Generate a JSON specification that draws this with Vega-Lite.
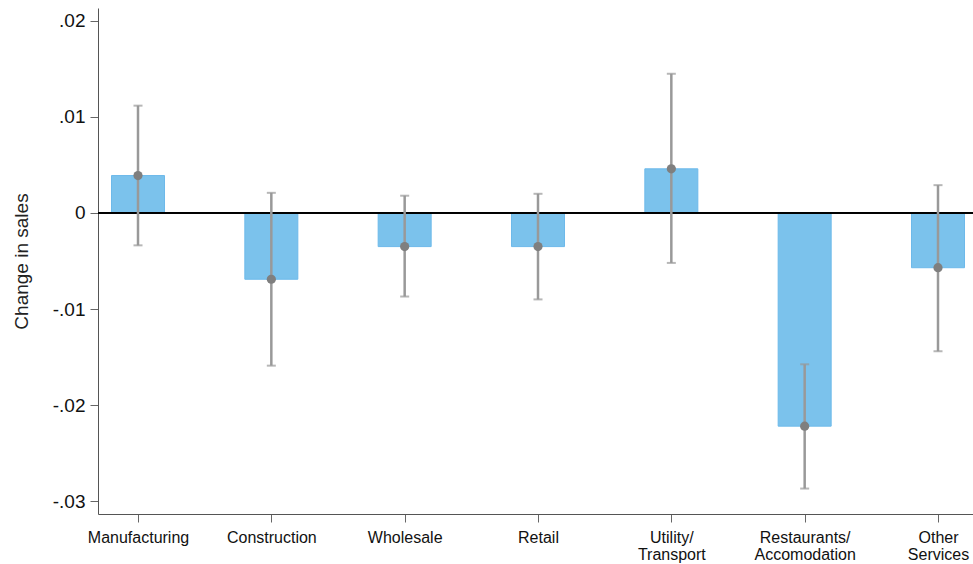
{
  "$schema": "https://vega.github.io/schema/vega-lite/v6.json",
  "width": 880,
  "height": 506,
  "autosize": {"type": "none"},
  "padding": {"left": 98, "top": 8, "right": 0, "bottom": 50},
  "background": "white",
  "config": {
    "view": {"stroke": null},
    "font": "Liberation Sans"
  },
  "data": {
    "values": [
      {"sector": "Manufacturing", "est": 0.0039, "lo": -0.00337, "hi": 0.01118},
      {"sector": "Construction", "est": -0.0069, "lo": -0.0159, "hi": 0.0021},
      {"sector": "Wholesale", "est": -0.0035, "lo": -0.0087, "hi": 0.0018},
      {"sector": "Retail", "est": -0.0035, "lo": -0.0090, "hi": 0.0020},
      {"sector": "Utility/Transport", "est": 0.0046, "lo": -0.0052, "hi": 0.0145},
      {"sector": "Restaurants/Accomodation", "est": -0.0222, "lo": -0.0287, "hi": -0.01576},
      {"sector": "Other Services", "est": -0.0057, "lo": -0.0144, "hi": 0.0029}
    ]
  },
  "encoding": {
    "x": {
      "field": "sector",
      "type": "nominal",
      "sort": null,
      "scale": {"type": "point", "padding": 0.3},
      "axis": {
        "title": null,
        "labelAngle": 0,
        "labelFontSize": 16,
        "labelColor": "#111",
        "labelPadding": 7,
        "tickSize": 8,
        "tickColor": "#666",
        "domainColor": "#555",
        "labelLineHeight": 17,
        "labelExpr": "indexof(datum.value,'/')>0 ? [slice(datum.value,0,indexof(datum.value,'/')+1), slice(datum.value,indexof(datum.value,'/')+1)] : (datum.value=='Other Services' ? ['Other','Services'] : datum.value)"
      }
    }
  },
  "layer": [
    {
      "mark": {"type": "bar", "size": 53, "color": "#7BC2EC", "stroke": "#6DB9EA", "strokeWidth": 1},
      "encoding": {
        "y": {
          "field": "est",
          "type": "quantitative",
          "scale": {"domain": [-0.03135, 0.02135], "nice": false, "zero": false},
          "axis": {
            "title": "Change in sales",
            "titleFontSize": 19,
            "titleFontWeight": "normal",
            "titleColor": "#222",
            "titlePadding": 21,
            "values": [-0.03, -0.02, -0.01, 0, 0.01, 0.02],
            "labelExpr": "datum.value == 0 ? '0' : (datum.value < 0 ? '-' : '') + replace(format(abs(datum.value), '.2f'), '0.', '.')",
            "labelFontSize": 19,
            "labelColor": "#111",
            "labelPadding": 5,
            "tickSize": 8,
            "tickColor": "#666",
            "domainColor": "#555",
            "grid": false
          }
        },
        "y2": {"datum": 0}
      }
    },
    {
      "mark": {"type": "rule", "color": "#000000", "strokeWidth": 1},
      "encoding": {"y": {"datum": 0}, "x": {"value": 0}, "x2": {"value": 880}}
    },
    {
      "mark": {"type": "rule", "color": "#999999", "strokeWidth": 2.5},
      "encoding": {"y": {"field": "lo", "type": "quantitative"}, "y2": {"field": "hi"}}
    },
    {
      "mark": {"type": "tick", "color": "#999999", "size": 9, "thickness": 2},
      "encoding": {"y": {"field": "lo", "type": "quantitative"}}
    },
    {
      "mark": {"type": "tick", "color": "#999999", "size": 9, "thickness": 2},
      "encoding": {"y": {"field": "hi", "type": "quantitative"}}
    },
    {
      "mark": {"type": "point", "filled": true, "color": "#7f7f7f", "size": 85, "opacity": 1},
      "encoding": {"y": {"field": "est", "type": "quantitative"}}
    }
  ]
}
